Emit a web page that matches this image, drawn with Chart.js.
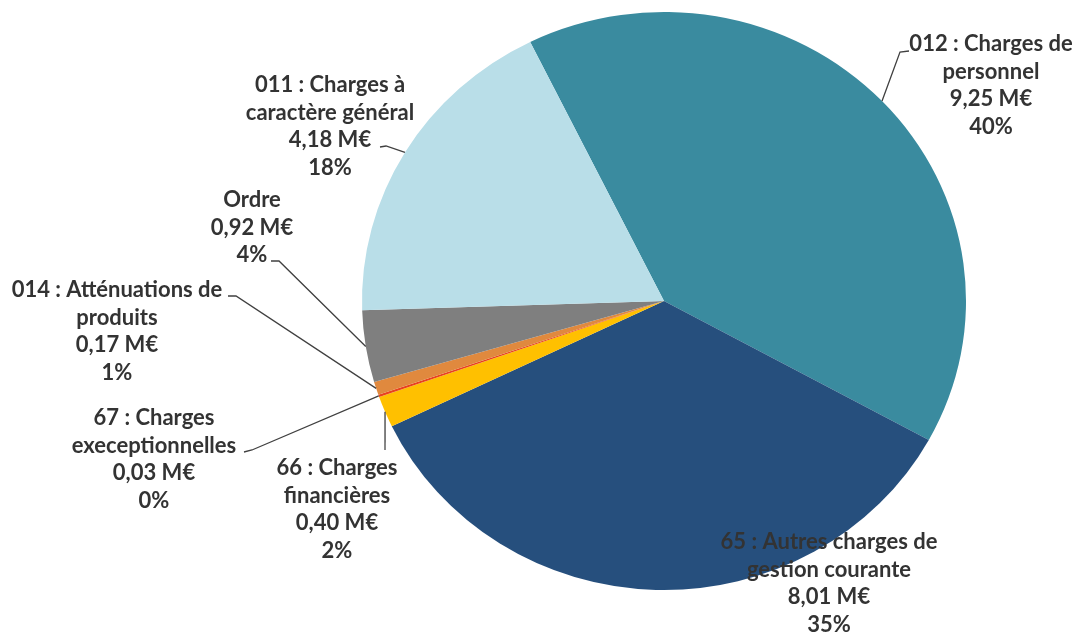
<!DOCTYPE html>
<html lang="fr">
<head>
    <meta charset="UTF-8">
    <title>Dépenses de fonctionnement</title>
    <script src="https://cdn.jsdelivr.net/npm/chart.js"></script>
</head>
<style>
    body { margin: 0; background: #ffffff; }
    .grafico_sty { width: 1078px; height: 633px; }
</style>
<body>

    <div class="grafico_sty">
        <canvas id="grafico_1" width="1078" height="633"></canvas>
    </div>

    <script>
        // donnees (M€), dans l'ordre horaire depuis "012"
        const categories = ['012 : Charges de personnel', '65 : Autres charges de gestion courante',
            '66 : Charges financières', '67 : Charges execeptionnelles',
            '014 : Atténuations de produits', 'Ordre', '011 : Charges à caractère général'];
        const valeurs = [9.25, 8.01, 0.40, 0.03, 0.17, 0.92, 4.18];
        const etiquettes = [
            ['012 : Charges de', 'personnel'],
            ['65 : Autres charges de', 'gestion courante'],
            ['66 : Charges', 'financières'],
            ['67 : Charges', 'execeptionnelles'],
            ['014 : Atténuations de', 'produits'],
            ['Ordre'],
            ['011 : Charges à', 'caractère général']
        ];
        const couleurs = ['#3a8b9f', '#264f7d', '#ffc000', '#e8421e', '#e0893e', '#7f7f7f', '#b9dee8'];

        // position des étiquettes : centre x, y de la 1re ligne, amorce de la ligne de rappel
        const positions = [
            { x: 991, y: 44, lead: [[909, 51], [900, 52]] },
            { x: 829, y: 542, lead: null },
            { x: 337, y: 468, lead: [[385, 450]] },
            { x: 154, y: 418, lead: [[244, 452], [252, 450]] },
            { x: 117, y: 290, lead: [[228, 296], [236, 296]] },
            { x: 252, y: 200, lead: [[271, 261], [279, 261]] },
            { x: 330, y: 85, lead: [[380, 147], [386, 146]] }
        ];
        const etirementX = 1.045;
        const total = valeurs.reduce((a, b) => a + b, 0);

        const ellipse = {
            id: 'ellipse',
            beforeDatasetsDraw(chart) {
                const arc = chart.getDatasetMeta(0).data[0];
                const c = chart.ctx;
                c.save();
                c.translate(arc.x, 0);
                c.scale(etirementX, 1);
                c.translate(-arc.x, 0);
            },
            afterDatasetsDraw(chart) {
                chart.ctx.restore();
            }
        };

        const etiquettesPlugin = {
            id: 'etiquettes',
            afterDraw(chart) {
                const c = chart.ctx;
                const arcs = chart.getDatasetMeta(0).data;
                c.save();
                c.strokeStyle = '#404040';
                c.lineWidth = 1.3;
                arcs.forEach((arc, i) => {
                    const p = positions[i];
                    if (!p.lead) return;
                    const a = (arc.startAngle + arc.endAngle) / 2;
                    const ex = arc.x + Math.cos(a) * arc.outerRadius * etirementX;
                    const ey = arc.y + Math.sin(a) * arc.outerRadius;
                    c.beginPath();
                    c.moveTo(p.lead[0][0], p.lead[0][1]);
                    p.lead.slice(1).forEach(pt => c.lineTo(pt[0], pt[1]));
                    c.lineTo(ex, ey);
                    c.stroke();
                });
                c.fillStyle = '#333333';
                c.font = 'bold 22px Lato';
                c.textAlign = 'center';
                c.textBaseline = 'middle';
                arcs.forEach((arc, i) => {
                    const p = positions[i];
                    const pct = Math.round(valeurs[i] / total * 100) + '%';
                    const lignes = etiquettes[i].concat([valeurs[i].toFixed(2).replace('.', ',') + ' M€', pct]);
                    lignes.forEach((t, k) => c.fillText(t, p.x, p.y + k * 27.7));
                });
                c.restore();
            }
        };

        const ctx = document.getElementById('grafico_1');

        const grafico_1 = new Chart(ctx, {
            type: 'pie',
            data: {
                labels: categories,
                datasets: [{
                    data: valeurs,
                    backgroundColor: couleurs,
                    borderWidth: 0
                }]
            },
            options: {
                responsive: false,
                animation: false,
                rotation: -26.3,
                layout: { padding: { top: 12, bottom: 43, left: 375, right: 125 } },
                plugins: {
                    legend: { display: false },
                    tooltip: { enabled: false }
                }
            },
            plugins: [ellipse, etiquettesPlugin]
        });
    </script>

</body>
</html>
